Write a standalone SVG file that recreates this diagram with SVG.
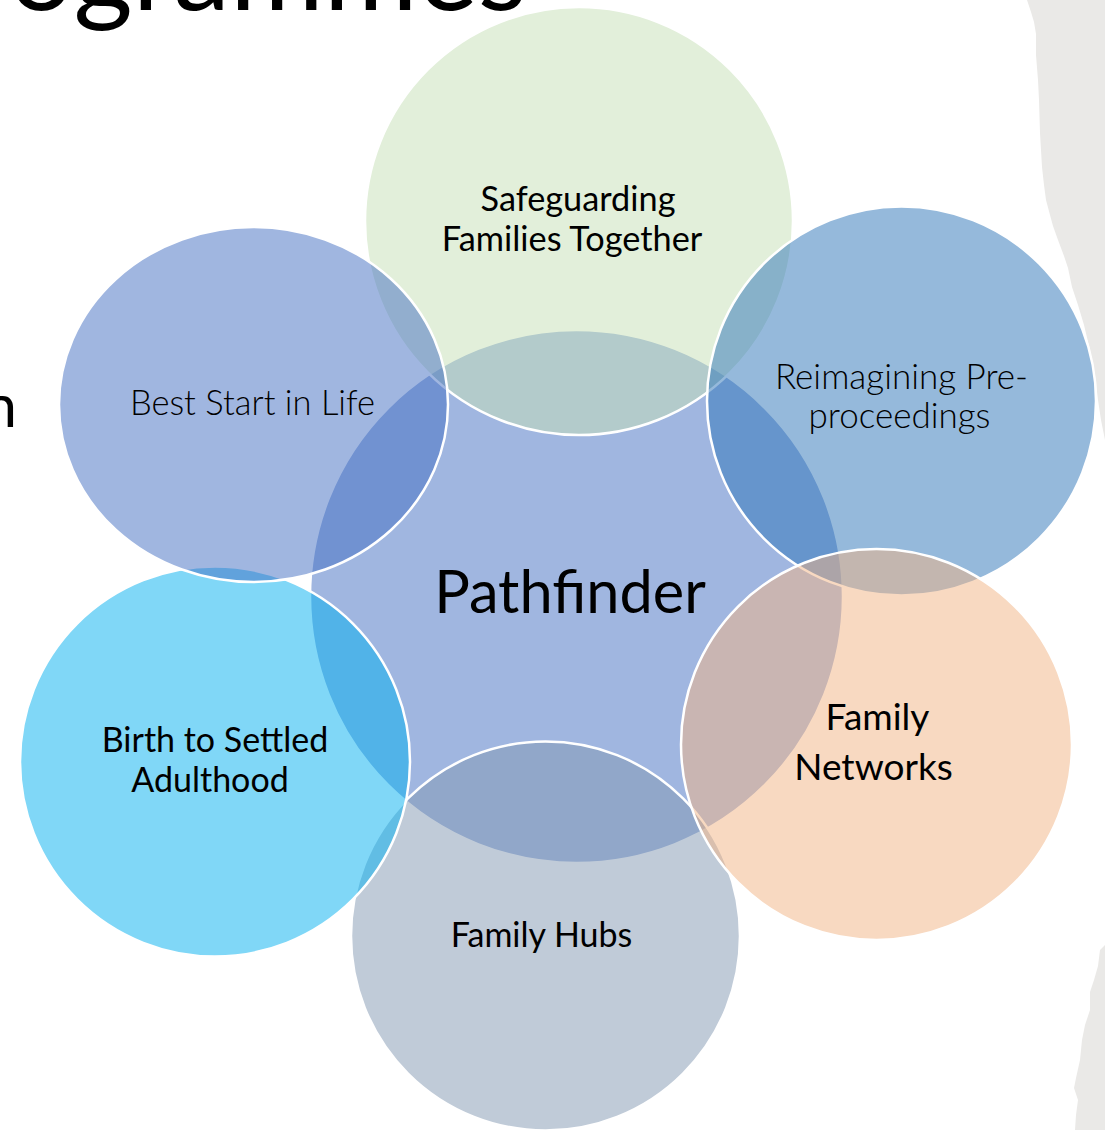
<svg xmlns="http://www.w3.org/2000/svg" width="1105" height="1130" viewBox="0 0 1105 1130">
  <style>
    .lbl { font-family: Lato, "Liberation Sans", sans-serif; fill: #000; text-anchor: middle; }
    .light { font-weight: 300; }
    .bubble { stroke: #ffffff; stroke-width: 2.5; fill-opacity: 0.5; }
    .paper { fill: #eae9e7; }
    .slide { font-family: Lato, "Liberation Sans", sans-serif; fill: #000; }
  </style>
  <rect x="0" y="0" width="1105" height="1130" fill="#ffffff"/>
  <g id="background">
    <path class="paper" d="M1027,0 L1031,12 L1034,22 L1036,34 L1036,55 L1038,80 L1039,100 L1040,133 L1041,150 L1042,167 L1044,185 L1046,200 L1050,215 L1053,226 L1058,240 L1064,256 L1068,268 L1072,287 L1078,305 L1084,325 L1090,350 L1095,375 L1098,400 L1101,420 L1105,440 L1105,0 Z"/>
    <path class="paper" d="M1105,945 L1100,950 L1098,966 L1094,980 L1090,992 L1090,1010 L1085,1025 L1082,1040 L1080,1060 L1076,1078 L1074,1088 L1078,1100 L1076,1115 L1075,1130 L1105,1130 Z"/>
    <text class="slide" x="527" y="10" font-size="114" text-anchor="end">ogrammes</text>
    <text class="slide" x="17" y="427" font-size="60" text-anchor="end">n</text>
  </g>
  <g id="node-pathfinder">
    <circle class="bubble" cx="576.5" cy="596.5" r="266.5" fill="#416dc1" stroke="none"/>
  </g>
  <g id="node-safeguarding">
    <circle class="bubble" cx="579" cy="221" r="214" fill="#c5dfb5"/>
  </g>
  <g id="node-reimagining">
    <circle class="bubble" cx="901.5" cy="401" r="194.5" fill="#2b73b7"/>
  </g>
  <g id="node-hubs">
    <circle class="bubble" cx="545.5" cy="936" r="194.5" fill="#8197b1"/>
  </g>
  <g id="node-networks">
    <circle class="bubble" cx="876.5" cy="744.5" r="195.5" fill="#f1b383"/>
  </g>
  <g id="node-birth">
    <circle class="bubble" cx="215" cy="761.5" r="195" fill="#01afef"/>
  </g>
  <g id="node-beststart">
    <ellipse class="bubble" cx="253.5" cy="404.5" rx="194.5" ry="177.5" fill="#416dc1"/>
  </g>
  <g id="labels">
    <text class="lbl" x="578" y="211" font-size="34.3">Safeguarding</text>
    <text class="lbl" x="572" y="251" font-size="34.3">Families Together</text>
    <text class="lbl light" x="252.5" y="415" font-size="34.5">Best Start in Life</text>
    <text class="lbl light" x="901.5" y="389" font-size="35">Reimagining Pre-</text>
    <text class="lbl light" x="899.5" y="428" font-size="35">proceedings</text>
    <text class="lbl" x="570" y="613" font-size="59.5">Pathfinder</text>
    <text class="lbl" x="877.5" y="730" font-size="37">Family</text>
    <text class="lbl" x="873.5" y="780" font-size="37">Networks</text>
    <text class="lbl" x="541.5" y="947" font-size="34">Family Hubs</text>
    <text class="lbl" x="215" y="752" font-size="34">Birth to Settled</text>
    <text class="lbl" x="210" y="792" font-size="34">Adulthood</text>
  </g>
</svg>
